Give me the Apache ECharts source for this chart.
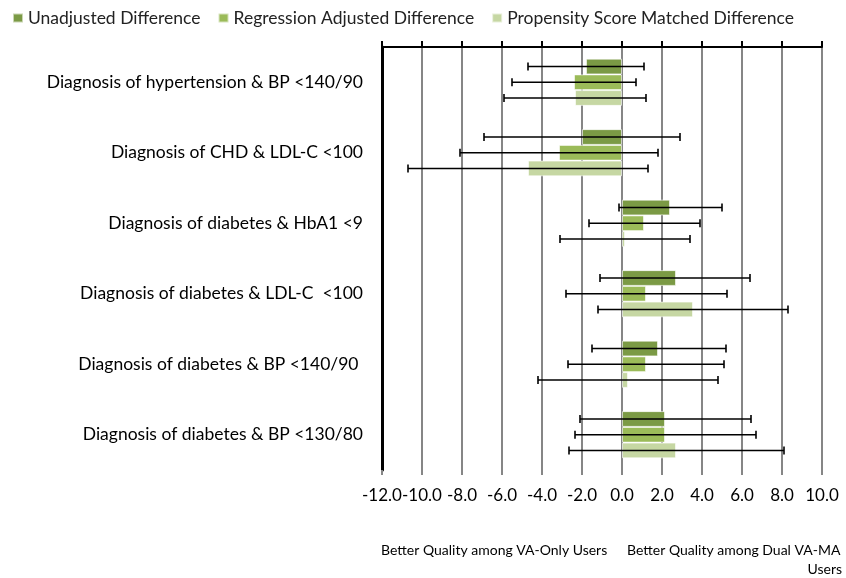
<!DOCTYPE html>
<html><head><meta charset="utf-8">
<script src="https://cdn.jsdelivr.net/npm/echarts@6/dist/echarts.min.js"></script>
<style>html,body{margin:0;padding:0;background:#fff}#c{width:846px;height:578px}</style>
</head><body><div id="c"></div>
<script>
var categories = [
  'Diagnosis of hypertension & BP <140/90',
  'Diagnosis of CHD & LDL-C <100',
  'Diagnosis of diabetes & HbA1 <9',
  'Diagnosis of diabetes & LDL-C  <100',
  'Diagnosis of diabetes & BP <140/90 ',
  'Diagnosis of diabetes & BP <130/80'
];
var seriesNames = ['Unadjusted Difference', 'Regression Adjusted Difference', 'Propensity Score Matched Difference'];
var unadjusted = [-1.8, -2.0, 2.4, 2.7, 1.8, 2.15];
var unadjustedLow = [-4.7, -6.9, -0.15, -1.1, -1.5, -2.1];
var unadjustedHigh = [1.1, 2.9, 5.0, 6.4, 5.2, 6.45];
var regression = [-2.4, -3.15, 1.1, 1.2, 1.2, 2.15];
var regressionLow = [-5.5, -8.1, -1.65, -2.8, -2.7, -2.35];
var regressionHigh = [0.7, 1.8, 3.9, 5.25, 5.1, 6.7];
var propensity = [-2.35, -4.7, 0.15, 3.55, 0.3, 2.7];
var propensityLow = [-5.9, -10.7, -3.1, -1.2, -4.2, -2.65];
var propensityHigh = [1.2, 1.3, 3.4, 8.3, 4.8, 8.1];
var xTicks = [-12, -10, -8, -6, -4, -2, 0, 2, 4, 6, 8, 10];

var colors = ['#7b9a45', '#9bbb59', '#c6d7a3'];
var FONT = 'Lato';
var CAT_GAP = 0.33;
var values = [unadjusted, regression, propensity];
var lows = [unadjustedLow, regressionLow, propensityLow];
var highs = [unadjustedHigh, regressionHigh, propensityHigh];

function errSeries(k) {
  return {
    type: 'custom',
    name: 'err' + k,
    z: 5,
    data: categories.map(function (c, i) { return [lows[k][i], highs[k][i], i]; }),
    encode: { x: [0, 1], y: 2 },
    renderItem: function (params, api) {
      var i = api.value(2);
      var p1 = api.coord([api.value(0), i]);
      var p2 = api.coord([api.value(1), i]);
      var band = api.size([0, 1])[1];
      var group = band * (1 - CAT_GAP);
      var w = group / 3;
      var y = p1[1] - group / 2 + w * (k + 0.5);
      var cap = 4;
      var st = { stroke: '#000', lineWidth: 1.6 };
      return { type: 'group', children: [
        { type: 'line', shape: { x1: p1[0], y1: y, x2: p2[0], y2: y }, style: st },
        { type: 'line', shape: { x1: p1[0], y1: y - cap, x2: p1[0], y2: y + cap }, style: st },
        { type: 'line', shape: { x1: p2[0], y1: y - cap, x2: p2[0], y2: y + cap }, style: st }
      ]};
    }
  };
}

var series = [];
for (var k = 0; k < 3; k++) {
  series.push({
    type: 'bar', name: seriesNames[k], data: values[k],
    barGap: '0%', barCategoryGap: (CAT_GAP * 100) + '%',
    itemStyle: { color: colors[k], borderColor: 'rgba(255,255,255,0.6)', borderWidth: 1 },
    z: 3
  });
}
for (var k2 = 0; k2 < 3; k2++) series.push(errSeries(k2));

var chart = echarts.init(document.getElementById('c'), null, { renderer: 'canvas' });
chart.setOption({
  animation: false,
  textStyle: { fontFamily: FONT },
  legend: {
    data: seriesNames, left: 7, top: 4, itemWidth: 10, itemHeight: 9, itemGap: 17,
    icon: 'rect',
    textStyle: { fontFamily: FONT, fontSize: 17.5, color: '#222' }
  },
  grid: { left: 382, right: 24, top: 47, bottom: 108, containLabel: false },
  xAxis: [{
    type: 'value', min: -12, max: 10, interval: 2, position: 'bottom',
    axisLine: { show: false },
    axisTick: { show: true, length: 5, lineStyle: { color: '#868686', width: 2 } },
    splitLine: { show: true, lineStyle: { color: '#868686', width: 2 } },
    axisLabel: { fontFamily: FONT, fontSize: 17, color: '#000', margin: 17,
      formatter: function (v) { return v.toFixed(1); }, customValues: xTicks }
  }, {
    type: 'value', min: -12, max: 10, interval: 2, position: 'top',
    axisLine: { show: true, lineStyle: { color: '#000', width: 2 } },
    axisTick: { show: true, length: 6, lineStyle: { color: '#000', width: 2 } },
    splitLine: { show: false }, axisLabel: { show: false }
  }],
  yAxis: {
    type: 'category', data: categories, inverse: true,
    axisLine: { show: true, onZero: false, lineStyle: { color: '#000', width: 3 } },
    axisTick: { show: false },
    axisLabel: { fontFamily: FONT, fontSize: 17.5, color: '#000', margin: 19 }
  },
  series: series,
  graphic: [
    { type: 'text', left: 381, top: 543, style: { text: 'Better Quality among VA-Only Users', fontFamily: FONT, fontSize: 14, fill: '#000' } },
    { type: 'text', left: 627, top: 543, style: { text: 'Better Quality among Dual VA-MA', fontFamily: FONT, fontSize: 14, fill: '#000' } },
    { type: 'text', right: 4, top: 562, style: { text: 'Users', fontFamily: FONT, fontSize: 14, fill: '#000' } }
  ]
});
</script></body></html>
